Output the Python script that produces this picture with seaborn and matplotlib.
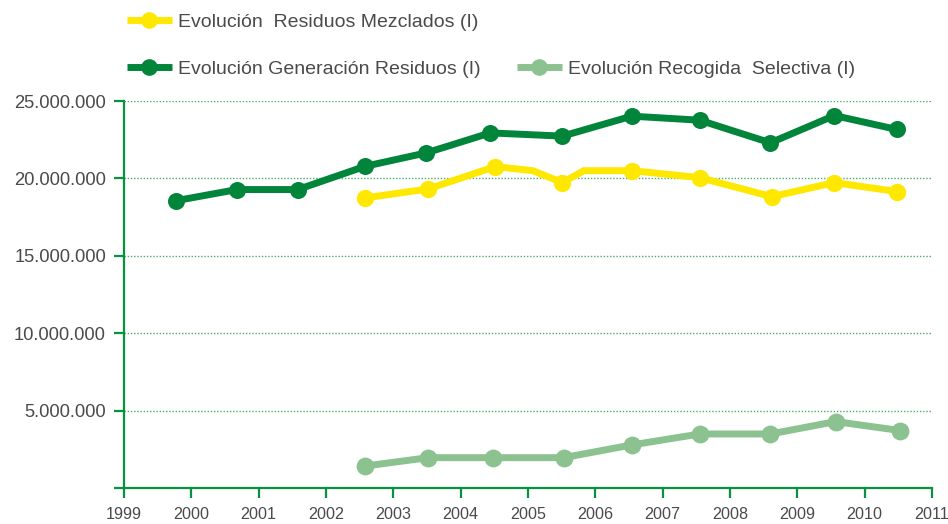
import numpy as np
import pandas as pd
import matplotlib
matplotlib.use("Agg")
import matplotlib.pyplot as plt
import seaborn as sns
from matplotlib.lines import Line2D
from matplotlib.ticker import FuncFormatter, MultipleLocator

# datos (posicion en el eje de años tal como aparece)
gen_x = [1999.77, 2000.68, 2001.58, 2002.58, 2003.49, 2004.44,
         2005.51, 2006.54, 2007.55, 2008.60, 2009.55, 2010.48]
gen_y = [18560000, 19280000, 19280000, 20780000, 21650000, 22940000,
         22730000, 24020000, 23760000, 22300000, 24060000, 23160000]

# la linea amarilla tiene dos quiebros sin marcador (2005.07 y 2005.83)
mez_x = [2002.58, 2003.52, 2004.51, 2005.07, 2005.51, 2005.83,
         2006.54, 2007.55, 2008.62, 2009.55, 2010.48]
mez_y = [18740000, 19320000, 20760000, 20500000, 19730000, 20500000,
         20500000, 20050000, 18820000, 19730000, 19150000]
mez_marker = [True, True, True, False, True, False,
              True, True, True, True, True]

sel_x = [2002.58, 2003.52, 2004.48, 2005.53, 2006.54, 2007.55,
         2008.60, 2009.57, 2010.53]
sel_y = [1420000, 1960000, 1960000, 1960000, 2780000, 3490000,
         3490000, 4290000, 3710000]

labels = ["Evolución  Residuos Mezclados (I)",
          "Evolución Generación Residuos (I)",
          "Evolución Recogida  Selectiva (I)"]
x_ticks = list(range(1999, 2012))

c_yellow = "#FFE800"
c_dark = "#00853A"
c_light = "#8CC290"
c_axis = "#08913E"
c_text = "#4A4A4A"

sns.set_style("ticks")
plt.rcParams["font.family"] = ["Liberation Sans", "DejaVu Sans"]

gen = pd.DataFrame({"x": gen_x, "y": gen_y})
mez = pd.DataFrame({"x": mez_x, "y": mez_y, "m": mez_marker})
sel = pd.DataFrame({"x": sel_x, "y": sel_y})

fig = plt.figure(figsize=(9.48, 5.24), dpi=100)
ax = fig.add_axes([124 / 948, 1 - 488 / 524, 808 / 948, 387 / 524])

lw = 5.0
for df, col in [(sel, c_light), (gen, c_dark), (mez, c_yellow)]:
    sns.lineplot(data=df, x="x", y="y", color=col, linewidth=lw, sort=False,
                 ax=ax, solid_joinstyle="miter", solid_capstyle="butt")

sns.scatterplot(data=sel, x="x", y="y", color=c_light, s=165, linewidth=0, ax=ax, zorder=3)
sns.scatterplot(data=gen, x="x", y="y", color=c_dark, s=150, linewidth=0, ax=ax, zorder=3)
sns.scatterplot(data=mez[mez["m"]], x="x", y="y", color=c_yellow, s=155, linewidth=0, ax=ax, zorder=3)

ax.set_xlim(1999, 2011)
ax.set_ylim(0, 25000000)
ax.set_xticks(x_ticks)
ax.set_xticklabels([str(t) for t in x_ticks])
ax.yaxis.set_major_locator(MultipleLocator(5000000))
ax.yaxis.set_major_formatter(FuncFormatter(
    lambda v, p: "" if v == 0 else f"{int(v):,}".replace(",", ".")))
ax.set_xlabel("")
ax.set_ylabel("")

for s in ["top", "right"]:
    ax.spines[s].set_visible(False)
for s in ["left", "bottom"]:
    ax.spines[s].set_color(c_axis)
    ax.spines[s].set_linewidth(1.6)

ax.tick_params(axis="y", direction="out", length=7, width=1.6, color=c_axis, pad=6,
               labelsize=13.2, labelcolor=c_text)
ax.tick_params(axis="x", direction="out", length=7, width=1.6, color=c_axis, pad=7,
               labelsize=11.6, labelcolor=c_text)

ax.yaxis.grid(True, linestyle=(0, (1, 1.3)), color=c_axis, alpha=0.75, linewidth=1.0)
ax.xaxis.grid(False)
ax.set_axisbelow(True)

def handle(col):
    return Line2D([], [], color=col, linewidth=5, marker="o", markersize=12,
                  markeredgewidth=0, solid_capstyle="butt")

leg_kw = dict(frameon=False, handlelength=2.3, handletextpad=0.3,
              prop={"size": 14.0}, labelcolor=c_text, borderaxespad=0,
              borderpad=0)
leg1 = fig.legend([handle(c_yellow)], [labels[0]], loc="center left",
                  bbox_to_anchor=(127 / 948, 1 - 22 / 524), **leg_kw)
leg2 = fig.legend([handle(c_dark), handle(c_light)], labels[1:], ncol=2,
                  columnspacing=1.9, loc="center left",
                  bbox_to_anchor=(127 / 948, 1 - 69 / 524), **leg_kw)

fig.savefig("out.png", dpi=100, facecolor="white")
